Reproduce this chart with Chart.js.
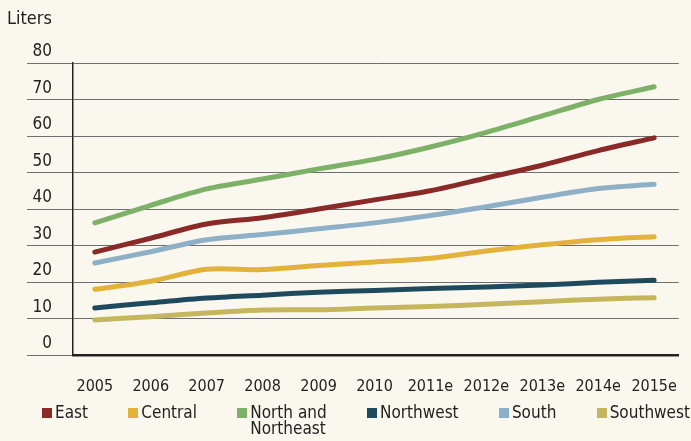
<!DOCTYPE html>
<html>
<head>
<meta charset="utf-8">
<script src="https://cdn.jsdelivr.net/npm/chart.js@4"></script>
<style>
    html, body { margin: 0; padding: 0; background: #faf8ee; }
    #wrap { position: relative; width: 691px; height: 441px; font-family: "Liberation Sans Narrow", "DejaVu Sans Condensed", "Roboto Condensed", sans-serif; color: #222; }
    #unit { position: absolute; left: 7px; top: 7px; font-size: 18px; }
    #legend { position: absolute; left: 42px; right: 1px; top: 404px; display: flex; justify-content: space-between; font-size: 17px; line-height: 16px; }
    .item { display: flex; align-items: flex-start; }
    .sw { width: 10px; height: 10px; margin: 4px 3px 0 0; flex: none; }
</style>
</head>
<body>
<div id="wrap">
    <canvas id="c" width="691" height="441"></canvas>
    <div id="unit">Liters</div>
    <div id="legend"></div>
</div>
<script>
// Categories (years, "e" = estimate)
const years = ['2005', '2006', '2007', '2008', '2009', '2010', '2011e', '2012e', '2013e', '2014e', '2015e'];

// Series values, liters
const east      = [28.2, 32.0, 35.9, 37.6, 40.0, 42.5, 45.0, 48.5, 52.0, 56.0, 59.5];
const central   = [18.0, 20.2, 23.5, 23.4, 24.5, 25.5, 26.5, 28.5, 30.2, 31.6, 32.4];
const northNE   = [36.2, 41.0, 45.5, 48.2, 51.0, 53.6, 57.0, 61.0, 65.5, 70.0, 73.5];
const northwest = [12.9, 14.3, 15.6, 16.4, 17.2, 17.7, 18.2, 18.6, 19.2, 19.9, 20.5];
const south     = [25.2, 28.3, 31.6, 33.0, 34.6, 36.2, 38.2, 40.6, 43.2, 45.6, 46.8];
const southwest = [9.6, 10.5, 11.5, 12.3, 12.4, 12.9, 13.3, 13.9, 14.6, 15.3, 15.7];

const seriesNames = ['East', 'Central', ['North and', 'Northeast'], 'Northwest', 'South', 'Southwest'];
const seriesData = [east, central, northNE, northwest, south, southwest];
const seriesColors = ['#8a2a28', '#e2b23a', '#7db167', '#1f4a5e', '#8eb0c6', '#c5b55c'];

// Y axis ticks
const yTicks = [0, 10, 20, 30, 40, 50, 60, 70, 80];

const FONT = "'Liberation Sans Narrow', 'DejaVu Sans Condensed', 'Roboto Condensed', sans-serif";
Chart.defaults.font.family = FONT;
Chart.defaults.color = '#222';

const datasets = seriesData.map((vals, i) => ({
    label: Array.isArray(seriesNames[i]) ? seriesNames[i].join(' ') : seriesNames[i],
    data: vals.map((v, k) => ({ x: k, y: v })),
    borderColor: seriesColors[i],
    borderWidth: 5,
    pointRadius: 0,
    tension: 0.3,
    borderCapStyle: 'round',
    fill: false
}));

new Chart(document.getElementById('c'), {
    type: 'line',
    data: { datasets: datasets },
    options: {
        responsive: false,
        animation: false,
        events: [],
        layout: { padding: { top: 63, right: 3, left: 0, bottom: 0 } },
        plugins: { legend: { display: false }, tooltip: { enabled: false } },
        scales: {
            x: {
                type: 'linear',
                min: -0.39,
                max: 10.44,
                afterFit: s => { s.height = 86; },
                afterBuildTicks: s => { s.ticks = years.map((y, i) => ({ value: i })); },
                ticks: {
                    font: { size: 16 },
                    padding: 14,
                    maxRotation: 0,
                    autoSkip: false,
                    callback: v => years[v]
                },
                grid: { display: false },
                border: { display: true, color: '#222', width: 2.5 }
            },
            y: {
                min: yTicks[0],
                max: yTicks[yTicks.length - 1],
                afterFit: s => { s.width = 73; },
                afterBuildTicks: s => { s.ticks = yTicks.map(v => ({ value: v })); },
                ticks: {
                    font: { size: 17 },
                    padding: -25,
                    labelOffset: -11
                },
                grid: { color: '#6e6e6e', lineWidth: 1, tickLength: 46, tickColor: '#6e6e6e' },
                border: { display: true, color: '#222', width: 1.5 }
            }
        }
    }
});

// legend below the chart
const legend = document.getElementById('legend');
seriesNames.forEach((name, i) => {
    const item = document.createElement('div');
    item.className = 'item';
    const sw = document.createElement('div');
    sw.className = 'sw';
    sw.style.background = seriesColors[i];
    const txt = document.createElement('div');
    txt.innerHTML = Array.isArray(name) ? name.join('<br>') : name;
    item.appendChild(sw);
    item.appendChild(txt);
    legend.appendChild(item);
});
</script>
</body>
</html>
